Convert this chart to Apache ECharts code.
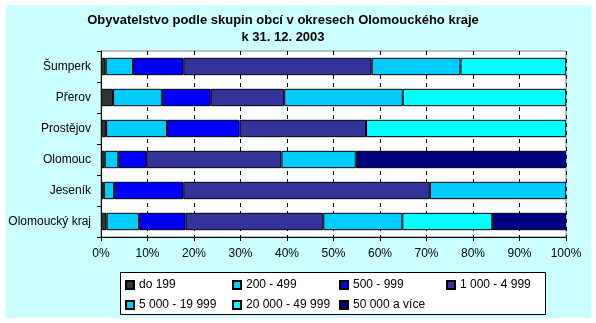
<!DOCTYPE html>
<html>
<head>
<meta charset="utf-8">
<script src="https://cdn.jsdelivr.net/npm/echarts@6/dist/echarts.min.js"></script>
<style>
  html, body { margin: 0; padding: 0; background: #ffffff; }
  #frame { position: absolute; left: 5px; top: 5px; width: 586px; height: 313px; background: #ccffff; }
  #chart { position: absolute; left: 0; top: 0; width: 596px; height: 323px; }
</style>
</head>
<body>
<div id="frame"></div>
<div id="chart"></div>
<script>
// Districts of the Olomouc region (top to bottom)
const districts = ['Šumperk', 'Přerov', 'Prostějov', 'Olomouc', 'Jeseník', 'Olomoucký kraj'];

// Municipality size groups
const groups = ['do 199', '200 - 499', '500 - 999', '1 000 - 4 999', '5 000 - 19 999', '20 000 - 49 999', '50 000 a více'];

// Share of population (%) living in each size group, per district
const do199      = [1.0, 2.6, 1.1, 0.8, 0.6, 1.2];
const g200_499   = [5.9, 10.5, 13.1, 2.9, 2.2, 7.0];
const g500_999   = [10.8, 10.5, 15.6, 6.0, 14.9, 10.0];
const g1000_4999 = [40.5, 15.8, 27.2, 29.1, 53.0, 29.6];
const g5000_19999 = [19.1, 25.5, null, 16.0, 29.3, 17.0];
const g20000_49999 = [22.7, 35.1, 43.0, null, null, 19.3];
const g50000plus = [null, null, null, 45.2, null, 15.9];

const xTicks = [0, 10, 20, 30, 40, 50, 60, 70, 80, 90, 100];

const seriesValues = [do199, g200_499, g500_999, g1000_4999, g5000_19999, g20000_49999, g50000plus];
const colors = ['#333333', '#00ccff', '#0000ff', '#333399', '#00ccff', '#00ffff', '#000080'];

const chart = echarts.init(document.getElementById('chart'), null, { renderer: 'canvas' });

const font = 'Liberation Sans, Arial, sans-serif';

chart.setOption({
  animation: false,
  backgroundColor: 'transparent',
  title: {
    text: 'Obyvatelstvo podle skupin obcí v okresech Olomouckého kraje\nk 31. 12. 2003',
    left: 283,
    top: 12,
    textAlign: 'center',
    padding: 0,
    textStyle: { fontFamily: font, fontWeight: 'bold', fontSize: 13, lineHeight: 17, color: '#000' }
  },
  // legend frame
  graphic: [{
    type: 'rect',
    z: 0,
    shape: { x: 120.5, y: 272.5, width: 425, height: 42 },
    style: { fill: '#ffffff', stroke: '#000000', lineWidth: 1 }
  }],
  grid: {
    left: 101, right: 30, top: 51, bottom: 86,
    show: true, backgroundColor: '#ffffff', borderColor: '#808080', borderWidth: 1
  },
  legend: {
    left: 121,
    top: 275,
    width: 460,
    padding: [3, 0, 0, 4],
    itemGap: 6,
    itemWidth: 8,
    itemHeight: 8,
    icon: 'rect',
    selectedMode: false,
    textStyle: { fontFamily: font, fontSize: 12, color: '#000', lineHeight: 14, width: 87, overflow: 'truncate' },
    data: groups
  },
  xAxis: {
    type: 'value',
    min: xTicks[0],
    max: xTicks[xTicks.length - 1],
    interval: xTicks[1] - xTicks[0],
    axisLine: { show: true, lineStyle: { color: '#000', width: 1 } },
    axisTick: { show: true, length: 4, lineStyle: { color: '#000' } },
    axisLabel: { formatter: '{value}%', fontFamily: font, fontSize: 12, color: '#000', margin: 11 },
    splitLine: { show: true, lineStyle: { color: '#000', type: [4, 4], width: 1 } }
  },
  yAxis: {
    type: 'category',
    inverse: true,
    data: districts,
    axisLine: { show: true, lineStyle: { color: '#000', width: 1 } },
    axisTick: { show: true, length: 4, lineStyle: { color: '#000' } },
    axisLabel: { fontFamily: font, fontSize: 12, color: '#000', margin: 10 }
  },
  series: groups.map((name, i) => ({
    name: name,
    type: 'bar',
    stack: 'total',
    barCategoryGap: '44%',
    data: seriesValues[i],
    itemStyle: { color: colors[i], borderColor: '#000', borderWidth: 1 }
  }))
});
</script>
</body>
</html>
